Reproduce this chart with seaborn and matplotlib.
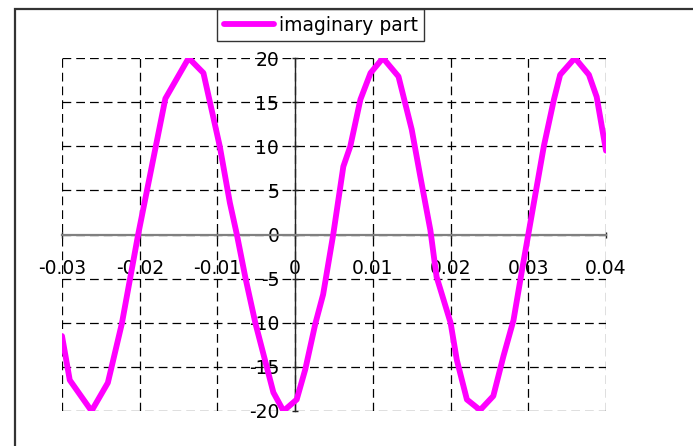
import numpy as np
import pandas as pd
import matplotlib
matplotlib.use('Agg')
import matplotlib.pyplot as plt
from matplotlib.patches import Rectangle
import seaborn as sns

# values
time_s = [-0.0300, -0.0290, -0.0262, -0.0241, -0.0223, -0.0202, -0.0167, -0.0137,
          -0.0118, -0.0097, -0.0084, -0.0075, -0.0064, -0.0051, -0.0028, -0.0015,
          0.0002, 0.0013, 0.0026, 0.0036, 0.0049, 0.0062, 0.0071, 0.0084,
          0.0097, 0.0113, 0.0133, 0.0150, 0.0161, 0.0174, 0.0182, 0.0191,
          0.0200, 0.0208, 0.0221, 0.0238, 0.0255, 0.0268, 0.0281, 0.0292,
          0.0302, 0.0320, 0.0333, 0.0341, 0.0360, 0.0378, 0.0388, 0.0400]
imag_part = [-11.5, -16.5, -20.0, -16.8, -10.1, 0.0, 15.4, 20.0,
             18.3, 10.0, 3.6, 0.0, -4.9, -10.1, -17.9, -20.0,
             -18.7, -15.3, -10.1, -6.8, 0.0, 7.7, 10.0, 15.3,
             18.3, 20.0, 17.9, 11.9, 6.6, 0.5, -4.8, -7.4,
             -10.0, -14.2, -18.7, -19.9, -18.3, -13.8, -9.7, -4.0,
             1.0, 10.0, 15.3, 18.1, 20.0, 18.1, 15.6, 9.5]

x_ticks = [-0.03, -0.02, -0.01, 0, 0.01, 0.02, 0.03, 0.04]
x_labels = ['-0.03', '-0.02', '-0.01', '0', '0.01', '0.02', '0.03', '0.04']
y_ticks = [-20, -15, -10, -5, 0, 5, 10, 15, 20]
y_labels = ['-20', '-15', '-10', '-5', '0', '5', '10', '15', '20']

df = pd.DataFrame({'t': time_s, 'imaginary part': imag_part})

sns.set_style('white')
plt.rcParams['font.family'] = ['DejaVu Sans']
plt.rcParams['text.color'] = 'black'
plt.rcParams['xtick.labelcolor'] = 'black'
plt.rcParams['ytick.labelcolor'] = 'black'

fig = plt.figure(figsize=(6.93, 4.46), dpi=100)
ax = fig.add_axes([62 / 693, 1 - 411 / 446, 544 / 693, 353 / 446])

sns.lineplot(data=df, x='t', y='imaginary part', sort=False, color='#FF00FF',
             linewidth=4.2, label='imaginary part', ax=ax, zorder=5)

ax.set_xlim(-0.03, 0.04)
ax.set_ylim(-20, 20)
ax.set_xticks(x_ticks)
ax.set_xticklabels(x_labels)
ax.set_yticks(y_ticks)
ax.set_yticklabels(y_labels)
ax.set_xlabel('')
ax.set_ylabel('')

# dashed grid, including the plot area edges
ax.grid(True, color='black', linestyle=(0, (7, 4)), linewidth=0.9)
for gl in ax.get_xgridlines() + ax.get_ygridlines():
    gl.set_clip_on(False)

# axes crossing at the origin
for side in ['top', 'right']:
    ax.spines[side].set_visible(False)
ax.spines['left'].set_position(('data', 0))
ax.spines['bottom'].set_position(('data', 0))
ax.spines['left'].set_color('#222222')
ax.spines['left'].set_linewidth(1.0)
ax.spines['bottom'].set_color('#808080')
ax.spines['bottom'].set_linewidth(1.6)

ax.tick_params(axis='y', direction='inout', length=5, width=1, color='#222222',
               pad=9, labelsize=13.5, labelcolor='black', left=True)
ax.tick_params(axis='x', direction='inout', length=5, width=1, color='#222222',
               pad=15.5, labelsize=13.5, labelcolor='black', bottom=True)

leg = ax.legend(loc='upper left', bbox_to_anchor=(217 / 693, 1 - 9 / 446),
                bbox_transform=fig.transFigure, borderaxespad=0, fancybox=False,
                frameon=True, edgecolor='black', fontsize=13.5, handlelength=2.7,
                handletextpad=0.25, borderpad=0.35)
leg.get_frame().set_linewidth(1.0)
leg.set_zorder(10)
for txt in leg.get_texts():
    txt.set_color('black')

# outer chart border
fig.add_artist(Rectangle((15 / 693, -0.2), 1.2, 1.2 - 9 / 446,
                         transform=fig.transFigure, fill=False,
                         edgecolor='#333333', linewidth=1.6))

fig.savefig('out.png', dpi=100)
